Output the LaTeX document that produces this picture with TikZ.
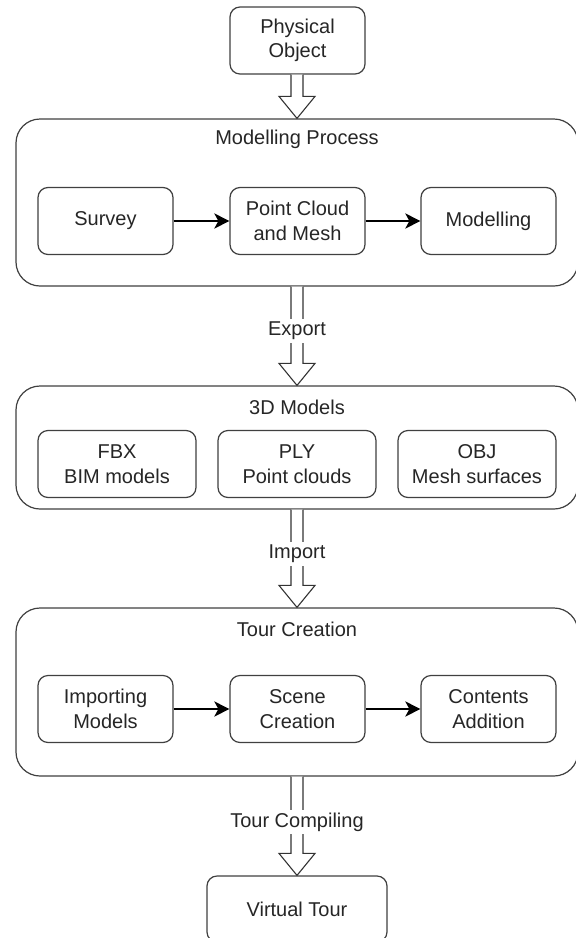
\documentclass[tikz,border=0pt]{standalone}
\usepackage{fontspec}
\setmainfont{Liberation Sans}
\usetikzlibrary{calc,arrows.meta}

\tikzset{
  x=1pt, y=1pt,
  every node/.style={font=\fontsize{20}{24.5}\selectfont, text=black!85, align=center, inner sep=0pt},
  stagebox/.style={draw=black!75, line width=1.2pt, rounded corners=10pt, fill=white},
  groupbox/.style={draw=black!75, line width=1.2pt, rounded corners=24pt, fill=white},
  flowarrow/.style={draw=black, line width=2.7pt, -{Stealth[length=15pt,width=15pt,inset=4pt]}},
  blockarrow/.style={draw=black!80, line width=1.1pt, fill=white, line join=miter},
  arrowlabel/.style={fill=white, inner xsep=1pt, inner ysep=3pt},
}

% hollow block arrow from the bottom of #1 to the top of #2
\newcommand\hollowarrow[2]{%
  \path[blockarrow] let \p1=(#1.south), \p2=(#2.north) in
    (\x2-6,\y1) -- (\x2-6,\y2+22) -- (\x2-18,\y2+22) -- (\x2,\y2)
    -- (\x2+18,\y2+22) -- (\x2+6,\y2+22) -- (\x2+6,\y1);}

\begin{document}
\begin{tikzpicture}
\useasboundingbox (0,0) rectangle (576,-938);

% top object
\node[stagebox, minimum width=135, minimum height=67] (phys) at (297.5,-40.5) {Physical\\Object};

% modelling stage
\node[groupbox, minimum width=562, minimum height=167] (mp) at (297,-202.5) {};
\node (mptitle) at (297,-139) {Modelling Process};
\node[stagebox, minimum width=135, minimum height=67] (survey) at (105.5,-221) {Survey};
\node[stagebox, minimum width=135, minimum height=67] (cloud) at (297.5,-221) {Point Cloud\\and Mesh};
\node[stagebox, minimum width=135, minimum height=67] (modelling) at (488.5,-221) {Modelling};
\draw[flowarrow] (survey) -- (cloud);
\draw[flowarrow] (cloud) -- (modelling);

% exported formats
\node[groupbox, minimum width=562, minimum height=123] (models) at (297,-447.5) {};
\node (modelstitle) at (297,-407) {3D Models};
\node[stagebox, minimum width=158, minimum height=67] (fbx) at (117,-464) {FBX\\BIM models};
\node[stagebox, minimum width=158, minimum height=67] (ply) at (297,-464) {PLY\\Point clouds};
\node[stagebox, minimum width=158, minimum height=67] (obj) at (477,-464) {OBJ\\Mesh surfaces};

% tour stage
\node[groupbox, minimum width=562, minimum height=168] (tour) at (297,-692) {};
\node (tourtitle) at (297,-629) {Tour Creation};
\node[stagebox, minimum width=135, minimum height=67] (importing) at (105.5,-709) {Importing\\Models};
\node[stagebox, minimum width=135, minimum height=67] (scene) at (297.5,-709) {Scene\\Creation};
\node[stagebox, minimum width=135, minimum height=67] (contents) at (488.5,-709) {Contents\\Addition};
\draw[flowarrow] (importing) -- (scene);
\draw[flowarrow] (scene) -- (contents);

% result
\node[stagebox, minimum width=180, minimum height=66] (virtual) at (297,-909) {Virtual Tour};

% block arrows between the stages
\hollowarrow{phys}{mp}
\hollowarrow{mp}{models}
\hollowarrow{models}{tour}
\hollowarrow{tour}{virtual}

\node[arrowlabel] (export) at (297,-331) {Export};
\node[arrowlabel] (import) at (297,-554) {Import};
\node[arrowlabel] (compile) at (297,-822) {Tour Compiling};
\end{tikzpicture}
\end{document}
